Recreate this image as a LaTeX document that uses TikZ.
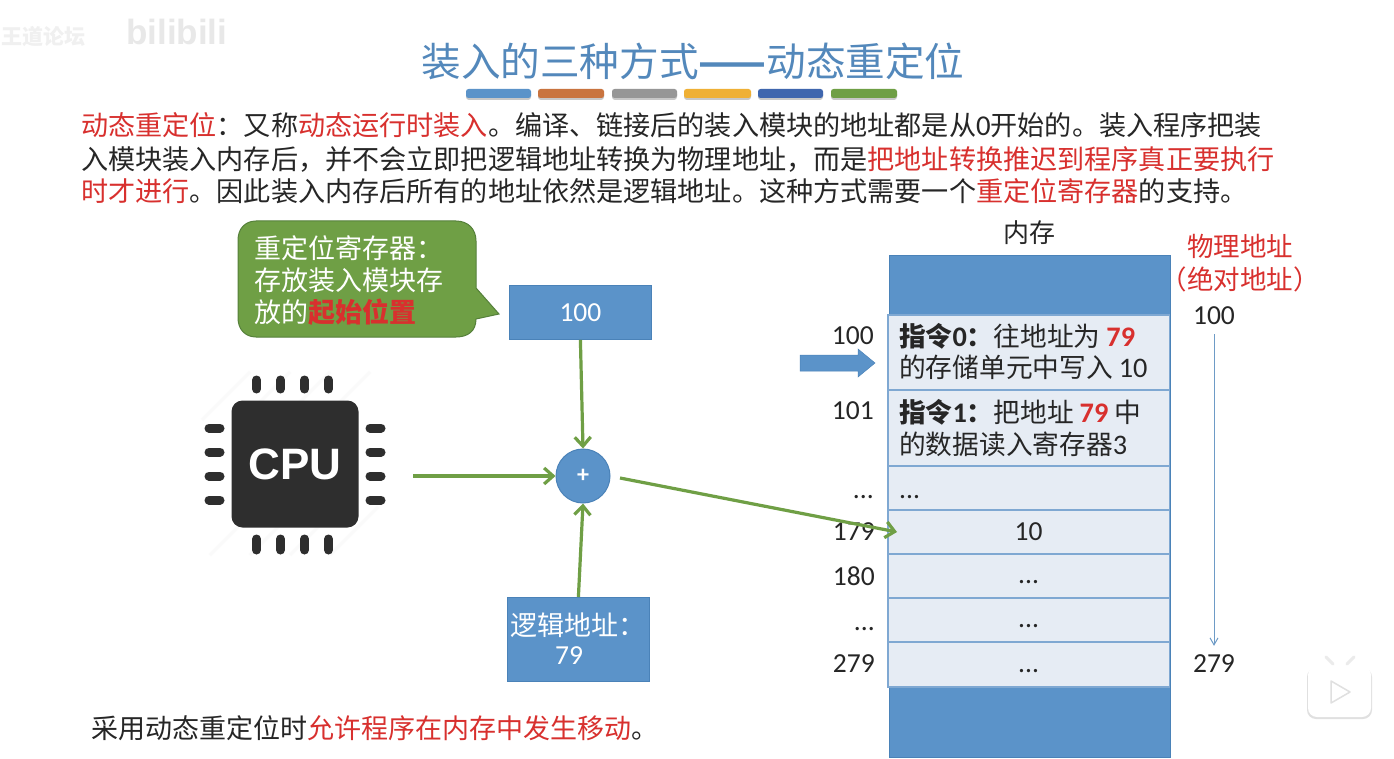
\documentclass[tikz,border=0pt]{standalone}
\usepackage{fontspec}
\setmainfont{Carlito}
\newfontfamily\cjk{Noto Sans CJK SC}
\newfontfamily\hv{Liberation Sans}
\usetikzlibrary{arrows.meta}
\definecolor{blueb}{HTML}{5B93C9}
\definecolor{blued}{HTML}{4A82B8}
\definecolor{cellf}{HTML}{E6ECF4}
\definecolor{celll}{HTML}{7FA8D2}
\definecolor{greenb}{HTML}{6F9F45}
\definecolor{greend}{HTML}{55803A}
\definecolor{redt}{HTML}{D8302E}
\definecolor{blackt}{HTML}{262626}
\definecolor{cpud}{HTML}{2E2E2E}
\newcommand{\rd}[1]{\textcolor{redt}{#1}}
\newfontfamily\latf{Carlito}[Scale=1.06]
\newcommand{\la}[1]{{\latf #1}}
\newcommand{\lb}[1]{{\latf\bfseries #1}}
\newcommand{\lowdots}{\smash{\raisebox{-8pt}{...}}}
\tikzset{
 line/.style={anchor=west,inner sep=0pt,font=\fontsize{27.12}{29}\cjk,text=blackt},
 cell/.style={draw=celll,line width=1.6pt,fill=cellf,minimum width=281.5pt,inner sep=0pt,anchor=north west,text=blackt},
 addr/.style={anchor=east,inner sep=0pt,font=\fontsize{27.5}{30}\selectfont,text=blackt},
 bluebox/.style={draw=blued,line width=0.8pt,fill=blueb,inner sep=0pt,text=white},
 garrow/.style={draw=greenb,line width=3.2pt,-{Straight Barb[length=9pt,width=16pt,line width=3.2pt]}},
 barbox/.style={rounded corners=2.5pt,fill=#1,draw=none},
 barshadow/.style={rounded corners=3pt,fill=black!22,draw=none},
 pin/.style={line width=9pt,line cap=round,draw=cpud},
 celltext/.style={anchor=west,inner sep=0pt,font=\fontsize{26.7}{29}\cjk,text=blackt},
 stripe/.style={draw=black!2,line width=3pt},
}
\begin{document}
\begin{tikzpicture}[x=1pt,y=-1pt]
\useasboundingbox[fill=white] (0,0) rectangle (1394,759);
% watermark
\node[anchor=west,inner sep=0pt,font=\fontsize{21}{22}\cjk\bfseries,text=black!6] (wm) at (1,37) {王道论坛};
\node[anchor=west,inner sep=0pt,font=\fontsize{35}{36}\hv\bfseries,text=black!9] (wm2) at (126,32) {bilibili};
% title
\node[inner sep=0pt,font=\fontsize{39.6}{41}\cjk,text=blued!95!white] (title) at (693,61) {装入的三种方式\textbf{——}动态重定位};
\foreach \a/\b/\c in {466/531/5B93C9,538/604/C9743F,612/677/969696,684/751/EFB035,758/823/3F66AE,831/897/6F9F45}{
 \fill[barshadow] (\a,91) rectangle (\b,100);
 \definecolor{barc}{HTML}{\c}
 \fill[barbox=barc] (\a,89) rectangle (\b,98);
}
% paragraph
\node[line] (p1) at (81,125) {\rd{动态重定位}：又称\rd{动态运行时装入}。编译、链接后的装入模块的地址都是从\la{0}开始的。装入程序把装};
\node[line] (p2) at (81,159) {入模块装入内存后，并不会立即把逻辑地址转换为物理地址，而是\rd{把地址转换推迟到程序真正要执行}};
\node[line] (p3) at (81,191) {\rd{时才进行}。因此装入内存后所有的地址依然是逻辑地址。这种方式需要一个\rd{重定位寄存器}的支持。};
% callout
\draw[fill=greenb,draw=greend,line width=1pt] (256,221) -- (456,221) .. controls (468,221) and (476,229) .. (476,241) -- (476,288) -- (499,314) -- (476,319) .. controls (476,331) and (468,337) .. (456,337) -- (256,337) .. controls (245,337) and (238,329) .. (238,318) -- (238,240) .. controls (238,229) and (245,221) .. (256,221) -- cycle;
\node[anchor=north west,inner sep=0pt,align=left,font=\fontsize{27}{32}\cjk,text=white] (notet) at (254,235) {重定位寄存器：\\存放装入模块存\\放的\textcolor{redt}{\textbf{起始位置}}};
% reg and logic box
\node[bluebox,minimum width=142pt,minimum height=54pt,anchor=north west,font=\fontsize{27.5}{30}\selectfont] (reg) at (509,285) {100};
\node[bluebox,minimum width=142pt,minimum height=84pt,anchor=north west] (log) at (507,597) {};
\node[anchor=west,inner sep=0pt,font=\fontsize{27}{29}\cjk,text=white] (logt) at (510,625) {逻辑地址：};
\node[inner sep=0pt,font=\fontsize{27.5}{30}\selectfont,text=white] (logn) at (569,656) {79};
% plus
\node[circle,fill=blueb,draw=blued,line width=1pt,minimum size=54pt,inner sep=0pt,text=white,font=\fontsize{24}{24}\selectfont\bfseries] (plus) at (583,476) {+};
% CPU
\foreach \x in {230,270,310,350}{\draw[stripe] (\x-28,420) -- (\x+20,372);\draw[stripe] (\x-20,555) -- (\x+28,507);}
\node[rounded corners=11pt,fill=cpud,minimum width=127pt,minimum height=127pt,inner sep=0pt,text=white,font=\fontsize{44}{44}\hv\bfseries] (cpu) at (295,464) {CPU};
\foreach \x in {257,281,305,329}{
 \draw[pin] (\x-.5,380) -- (\x-.5,389);
 \draw[pin] (\x-.5,539) -- (\x-.5,550);
}
\foreach \y in {428,452,476,500}{
 \draw[pin] (209,\y) -- (220,\y);
 \draw[pin] (370,\y) -- (381,\y);
}
\coordinate (cpuout) at (413,476);
% memory
\node[draw=blued,line width=0.8pt,fill=blueb,minimum width=281pt,minimum height=502pt,anchor=north west,inner sep=0pt] (mem) at (889,255) {};
\node[anchor=south,inner sep=0pt,font=\fontsize{26}{28}\cjk,text=blackt] (memt) at (1029,245) {内存};
\node[cell,minimum height=75pt] (c0) at (887,314) {};
\node[cell,minimum height=76pt] (c1) at (887,389) {};
\node[cell,minimum height=44pt] (c2) at (887,465) {};
\node[cell,minimum height=44pt,font=\fontsize{27.5}{30}\selectfont] (c3) at (887,509) {10};
\node[cell,minimum height=44pt,font=\fontsize{27.5}{30}\selectfont] (c4) at (887,553) {\lowdots};
\node[cell,minimum height=44pt,font=\fontsize{27.5}{30}\selectfont] (c5) at (887,597) {\lowdots};
\node[cell,minimum height=45pt,font=\fontsize{27.5}{30}\selectfont] (c6) at (887,641) {\lowdots};
\node[celltext] (c0a) at (899,336) {\textbf{指令}\lb{0}\textbf{：}往地址为 \textcolor{redt}{\lb{79}}};
\node[celltext] (c0b) at (899,367) {的存储单元中写入 \la{10}};
\node[celltext] (c1a) at (899,412) {\textbf{指令}\lb{1}\textbf{：}把地址 \textcolor{redt}{\lb{79}} 中};
\node[celltext] (c1b) at (899,444) {的数据读入寄存器\la{3}};
\node[anchor=west,inner sep=0pt,font=\fontsize{27.5}{30}\selectfont,text=blackt] (c2t) at (899,497) {...};
% addresses
\node[addr] (a0) at (874,336) {100};
\node[addr] (a1) at (874,411) {101};
\node[addr] (a2) at (874,497) {...};
\node[addr] (a3) at (875,532) {179};
\node[addr] (a4) at (875,576) {180};
\node[addr] (a5) at (875,629) {...};
\node[addr] (a6) at (875,664) {279};
% pc arrow
\draw[blued,fill=blueb,line width=0.5pt] (800,355) -- (858,355) -- (858,349) -- (875,363) -- (858,377) -- (858,371) -- (800,371) -- cycle;
% physical
\node[inner sep=0pt,font=\fontsize{26.5}{28}\cjk,text=redt] (ph1) at (1240,246) {物理地址};
\node[inner sep=0pt,font=\fontsize{26.5}{28}\cjk,text=redt] (ph2) at (1240,279) {（绝对地址）};
\node[inner sep=0pt,font=\fontsize{27.5}{30}\selectfont,text=blackt] (p100) at (1214,316) {100};
\node[inner sep=0pt,font=\fontsize{27.5}{30}\selectfont,text=blackt] (p279) at (1214,664) {279};
\draw[blued!80,line width=1pt,-{Straight Barb[length=7pt,width=8pt]},shorten <=9pt,shorten >=9pt] (p100.south) -- (p279.north);
% connectors
\coordinate (hit) at (897,532);
\coordinate (plusout) at (620,478);
\draw[garrow] (reg.south) -- (plus.north);
\draw[garrow] (log.north) -- (plus.south);
\draw[garrow] (cpuout) -- (plus.west);
\draw[garrow] (plusout) -- (hit);
% bottom text
\node[line,font=\fontsize{27}{29}\cjk] (bot) at (91,728) {采用动态重定位时\rd{允许程序在内存中发生移动}。};
% TV icon
\fill[black!12,rounded corners=9pt] (1307,668) rectangle (1372,719);
\draw[black!8,line width=3pt,line cap=round] (1326,657) -- (1333,664) (1354,657) -- (1347,664);
\fill[white,rounded corners=9pt] (1308,666) rectangle (1371,717);
\draw[black!12,line width=1.5pt,fill=white,line join=round] (1331,681) -- (1350,692) -- (1331,703) -- cycle;
\end{tikzpicture}
\end{document}
